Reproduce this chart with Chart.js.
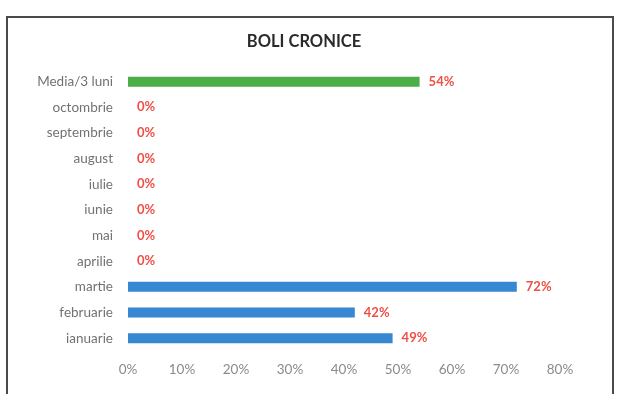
<!DOCTYPE html>
<html>
<head>
<meta charset="utf-8">
<script src="https://cdn.jsdelivr.net/npm/chart.js@4"></script>
<style>
  html, body { margin: 0; padding: 0; background: #fff; }
  #wrap { position: relative; width: 621px; height: 394px; }
  #frame {
    position: absolute; left: 6px; top: 16px; width: 608px; height: 400px;
    border: 2px solid #4a4a4a; box-sizing: border-box; pointer-events: none;
  }
</style>
</head>
<body>
<div id="wrap">
  <canvas id="chart" width="621" height="394"></canvas>
  <div id="frame"></div>
</div>
<script>
// months from bottom to top, average row last (drawn on top)
const categories = [
  "ianuarie", "februarie", "martie", "aprilie", "mai", "iunie",
  "iulie", "august", "septembrie", "octombrie", "Media/3 luni"
];
const percentValues = [49, 42, 72, 0, 0, 0, 0, 0, 0, 0, 54];
const xTickValues = [0, 10, 20, 30, 40, 50, 60, 70, 80];
const averageLabel = "Media/3 luni";

const BLUE = "#3788d3";
const GREEN = "#4cae47";
const RED = "#ef4f45";
const FONT = "Lato, 'Open Sans', sans-serif";

// red value label after every bar
const valueLabels = {
  id: "valueLabels",
  afterDatasetsDraw(chart) {
    const ctx = chart.ctx;
    const meta = chart.getDatasetMeta(0);
    ctx.save();
    ctx.font = "bold 13px " + FONT;
    ctx.fillStyle = RED;
    ctx.textAlign = "left";
    ctx.textBaseline = "middle";
    meta.data.forEach((bar, i) => {
      ctx.fillText(percentValues[i] + "%", bar.x + 9, bar.y);
    });
    ctx.restore();
  }
};

// centre the title over the whole frame rather than the padded chart box
const titleShift = {
  id: "titleShift",
  afterLayout(chart) {
    if (chart.titleBlock) chart.titleBlock.left += 40;
  }
};

new Chart(document.getElementById("chart"), {
  type: "bar",
  data: {
    labels: categories,
    datasets: [{
      data: percentValues,
      backgroundColor: (c) => categories[c.dataIndex] === averageLabel ? GREEN : BLUE,
      barThickness: 10,
      borderWidth: 0,
      inflateAmount: 0
    }]
  },
  options: {
    indexAxis: "y",
    responsive: false,
    animation: false,
    layout: { padding: { top: 20, left: 8, right: 61, bottom: 0 } },
    plugins: {
      legend: { display: false },
      tooltip: { enabled: false },
      title: {
        display: true,
        text: "BOLI CRONICE",
        color: "#2a2a2a",
        font: { family: FONT, size: 16.5, weight: "bold" },
        padding: { top: 12, bottom: 17 }
      }
    },
    scales: {
      x: {
        min: 0,
        max: 80,
        grid: { display: false },
        border: { display: false },
        afterBuildTicks(scale) {
          scale.ticks = xTickValues.map(v => ({ value: v }));
        },
        afterFit(scale) { scale.height = 43; },
        ticks: {
          padding: 3,
          color: "#8a8a8a",
          font: { family: FONT, size: 13.5 },
          callback: (v) => v + "%"
        }
      },
      y: {
        reverse: true,
        grid: { display: false },
        border: { display: false },
        afterFit(scale) { scale.width = 120; },
        ticks: {
          padding: 7,
          color: "#727272",
          font: { family: FONT, size: 13.5 }
        }
      }
    }
  },
  plugins: [valueLabels, titleShift]
});
</script>
</body>
</html>
